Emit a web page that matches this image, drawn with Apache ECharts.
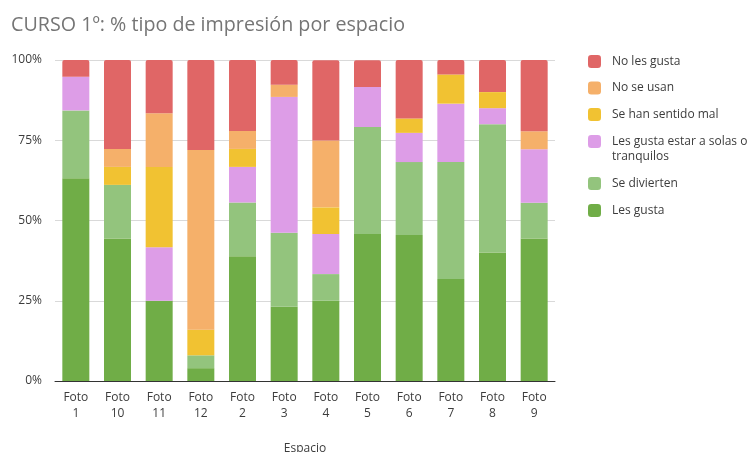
<!DOCTYPE html>
<html>
<head>
<meta charset="utf-8">
<script src="https://cdn.jsdelivr.net/npm/echarts@6/dist/echarts.min.js"></script>
<style>
  html, body { margin: 0; padding: 0; background: #fff; }
  #chart { width: 753px; height: 452px; }
</style>
</head>
<body>
<div id="chart"></div>
<script>
  // datos (% por espacio)
  var categories = ['Foto 1', 'Foto 10', 'Foto 11', 'Foto 12', 'Foto 2', 'Foto 3', 'Foto 4', 'Foto 5', 'Foto 6', 'Foto 7', 'Foto 8', 'Foto 9'];
  var lesGusta    = [63.2, 44.4, 25.0, 4.0, 38.9, 23.1, 25.0, 45.8, 45.5, 31.8, 40.0, 44.4];
  var seDivierten = [21.1, 16.7, 0, 4.0, 16.7, 23.1, 8.3, 33.3, 22.7, 36.4, 40.0, 11.1];
  var aSolas      = [10.5, 0, 16.7, 0, 11.1, 42.3, 12.5, 12.5, 9.1, 18.2, 5.0, 16.7];
  var sentidoMal  = [0, 5.6, 25.0, 8.0, 5.6, 0, 8.3, 0, 4.5, 9.1, 5.0, 0];
  var noSeUsan    = [0, 5.6, 16.7, 56.0, 5.6, 3.8, 20.8, 0, 0, 0, 0, 5.6];
  var noLesGusta  = [5.3, 27.8, 16.7, 28.0, 22.2, 7.7, 25.0, 8.3, 18.2, 4.5, 10.0, 22.2];
  var yTicks = [0, 25, 50, 75, 100];

  var font = '"Open Sans", sans-serif';
  var SOLAS = 'Les gusta estar a solas o\ntranquilos';

  function serie(name, data, color, top) {
    return {
      name: name,
      type: 'bar',
      stack: 'total',
      barWidth: 27,
      data: data,
      itemStyle: { color: color, borderRadius: top ? [2, 2, 0, 0] : 0 }
    };
  }

  // leyenda partida en tres para que el texto de dos lineas quede como en el original
  function leyenda(top, names, gap, fmt) {
    return {
      orient: 'vertical',
      left: 588, top: top,
      padding: 0,
      itemWidth: 13, itemHeight: 13, itemGap: gap,
      icon: 'roundRect',
      formatter: fmt,
      textStyle: { fontFamily: font, fontSize: 12, lineHeight: 15, color: '#3c3c3c', padding: [0, 0, 0, 6] },
      data: names
    };
  }

  var chart = echarts.init(document.getElementById('chart'));
  chart.setOption({
    animation: false,
    title: {
      text: 'CURSO 1º: % tipo de impresión por espacio',
      left: 6, top: 10,
      textStyle: { fontFamily: font, fontSize: 19.7, fontWeight: 'normal', color: '#757575' }
    },
    legend: [
      leyenda(54, ['No les gusta', 'No se usan', 'Se han sentido mal'], 11.5),
      // linea en blanco arriba: asi la primera linea queda a la altura del icono
      leyenda(119, [SOLAS], 11.5, function (n) { return ' \n' + n; }),
      leyenda(176, ['Se divierten', 'Les gusta'], 12)
    ],
    grid: { left: 55, right: 198, top: 60, bottom: 71, outerBoundsMode: 'none' },
    xAxis: {
      type: 'category',
      data: categories,
      name: 'Espacio',
      nameLocation: 'middle',
      nameGap: 62,
      nameTextStyle: { fontFamily: font, fontSize: 12, color: '#3c3c3c' },
      axisTick: { show: false },
      axisLine: { lineStyle: { color: '#333' } },
      axisLabel: {
        interval: 0, margin: 9, lineHeight: 16,
        fontFamily: font, fontSize: 12, color: '#3c3c3c',
        formatter: function (v) { return v.replace(' ', '\n'); }
      }
    },
    yAxis: {
      type: 'value',
      min: yTicks[0], max: yTicks[yTicks.length - 1], interval: 25,
      axisLine: { show: false },
      axisTick: { show: false },
      splitLine: { lineStyle: { color: '#d9d9d9' } },
      axisLabel: { margin: 13, fontFamily: font, fontSize: 12, color: '#3c3c3c', formatter: '{value}%' }
    },
    series: [
      serie('Les gusta', lesGusta, '#70ad47'),
      serie('Se divierten', seDivierten, '#93c47d'),
      serie(SOLAS, aSolas, '#dd9de7'),
      serie('Se han sentido mal', sentidoMal, '#f1c232'),
      serie('No se usan', noSeUsan, '#f5b06a'),
      serie('No les gusta', noLesGusta, '#e06666', true)
    ]
  });
</script>
</body>
</html>
